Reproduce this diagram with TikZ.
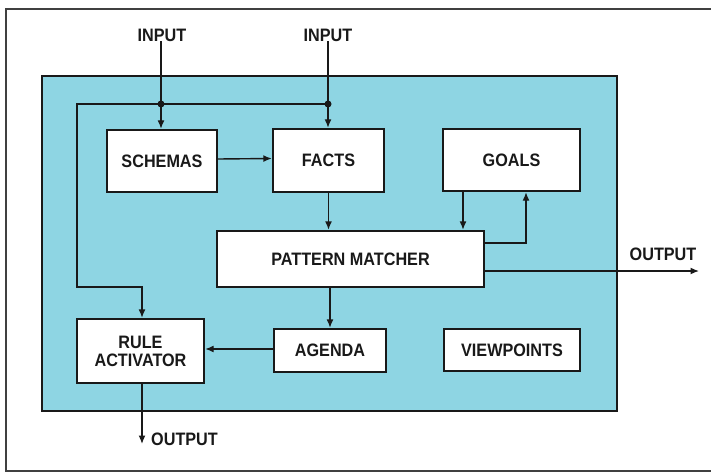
\documentclass[tikz,border=0pt]{standalone}
\usepackage{fontspec}
\setmainfont{Liberation Sans}[FakeStretch=0.9]
\usetikzlibrary{arrows.meta}
\definecolor{panel}{RGB}{142,213,227}
\definecolor{ink}{RGB}{25,25,25}
\tikzset{
  blk/.style={draw=ink, line width=2.4pt, fill=white, inner sep=0pt, align=center,
    font=\fontsize{18}{19}\selectfont\bfseries, text=ink},
  lbl/.style={inner sep=0pt, font=\fontsize{18}{19}\selectfont\bfseries, text=ink},
  conn/.style={draw=ink, line width=1.4pt},
  arr/.style={conn, -{Latex[length=8.5pt,width=7pt]}},
  jdot/.style={circle, fill=ink, inner sep=0pt, minimum size=7pt}
}
\begin{document}
\begin{tikzpicture}[x=1pt,y=-1pt]
\useasboundingbox (0,0) rectangle (711,473);
% outer frame
\draw[line width=1.8pt, draw=black!75] (711,9) -- (6,9) -- (6,471) -- (711,471);
% panel
\draw[line width=2pt, draw=ink, fill=panel] (42,76) rectangle (617,411);
% blocks
\node[blk, minimum width=110pt, minimum height=62pt] (schemas) at (162,161) {SCHEMAS};
\node[blk, minimum width=111pt, minimum height=63pt] (facts) at (328.5,160.5) {FACTS};
\node[blk, minimum width=137pt, minimum height=62pt] (goals) at (511.5,160) {GOALS};
\node[blk, minimum width=267pt, minimum height=56pt] (pm) at (350.5,259) {PATTERN MATCHER};
\node[blk, minimum width=127pt, minimum height=64pt] (ra) at (140.5,351) {RULE\\[-1pt]ACTIVATOR};
\node[blk, minimum width=112pt, minimum height=43pt] (agenda) at (330,350.5) {AGENDA};
\node[blk, minimum width=136pt, minimum height=42pt] (vp) at (512,350) {VIEWPOINTS};
% labels
\node[lbl] (in1) at (162,35) {INPUT};
\node[lbl] (in2) at (328,35) {INPUT};
\node[lbl] (out1) at (663,254) {OUTPUT};
\node[lbl, anchor=west] (out2) at (151,439) {OUTPUT};
% coordinates
\coordinate (j1) at (161,104);
\coordinate (j2) at (328,104);
\coordinate (cl) at (77,104);
\coordinate (bend) at (77,287);
\coordinate (oright) at (699,271);
\coordinate (odown) at (142,444);
% connectors
\draw[arr] (in1.south -| j1) -- (j1 |- schemas.north);
\draw[arr] (in2.south -| j2) -- (j2 |- facts.north);
\draw[arr] (j2) -- (cl) -- (bend) -| ([xshift=1.5pt]ra.north);
\node[jdot] (d1) at (j1) {};
\node[jdot] (d2) at (j2) {};
\draw[arr] ([yshift=2pt]schemas.east) -- ([yshift=2pt]facts.west);
\draw[arr] (facts.south) -- (facts.south |- pm.north);
\draw[arr] ([xshift=-48.5pt]goals.south) -- ([xshift=-48.5pt]goals.south |- pm.north);
\draw[arr] ([yshift=16pt]pm.east) -| ([xshift=14.5pt]goals.south);
\draw[arr] ([yshift=-12pt]pm.east) -- (oright);
\draw[arr] (pm.south -| agenda.north) -- (agenda.north);
\draw[arr] ([yshift=1.5pt]agenda.west) -- ([yshift=1.5pt]agenda.west -| ra.east);
\draw[arr] ([xshift=1.5pt]ra.south) -- (odown);
\end{tikzpicture}
\end{document}
